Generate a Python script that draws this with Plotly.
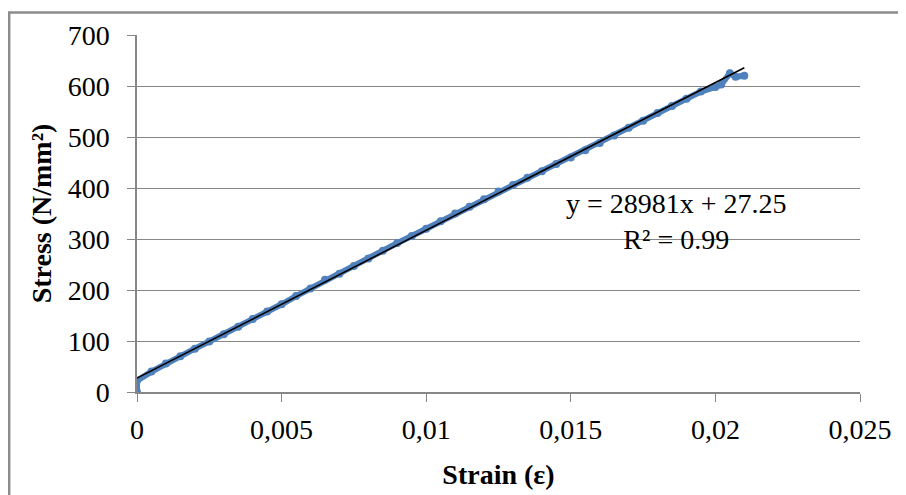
import plotly.graph_objects as go

strain = [0, 0, 0.0005, 0.001, 0.0015, 0.002, 0.0025, 0.003, 0.0035, 0.004, 0.0045,
          0.005, 0.0055, 0.006, 0.0065, 0.007, 0.0075, 0.008, 0.0085, 0.009, 0.0095,
          0.010, 0.0105, 0.011, 0.0115, 0.012, 0.0125, 0.013, 0.0135, 0.014, 0.0145,
          0.015, 0.0155, 0.016, 0.0165, 0.017, 0.0175, 0.018, 0.0185, 0.019, 0.0195,
          0.020, 0.0202, 0.0205, 0.0207, 0.021]
stress = [0, 22, 40, 56, 70, 85, 99, 113, 128, 143, 158,
          172, 188, 203, 220, 232, 247, 262, 277, 292, 306,
          320, 335, 350, 363, 378, 393, 406, 420, 433, 447,
          460, 474, 488, 503, 518, 532, 547, 561, 575, 589,
          598, 603, 625, 618, 620]

slope = 28981
intercept = 27.25
trend_x = [0, 0.021]
trend_y = [slope * x + intercept for x in trend_x]

x_ticks = [0, 0.005, 0.01, 0.015, 0.02, 0.025]
x_tick_labels = ["0", "0,005", "0,01", "0,015", "0,02", "0,025"]
y_ticks = [0, 100, 200, 300, 400, 500, 600, 700]

FONT = "Liberation Serif, Times New Roman, serif"
GRID = "#878787"
FS = 28

fig = go.Figure()
fig.add_trace(go.Scatter(x=strain, y=stress, mode="lines+markers",
                         line=dict(color="#4F81BD", width=6),
                         marker=dict(color="#4F81BD", size=8),
                         showlegend=False))
fig.add_trace(go.Scatter(x=trend_x, y=trend_y, mode="lines",
                         line=dict(color="black", width=1.6),
                         showlegend=False))

fig.add_annotation(x=0.01867, y=334, xref="x", yref="y",
                   text="y = 28981x + 27.25<br>R² = 0.99", showarrow=False,
                   align="center", font=dict(family=FONT, size=FS, color="black"))

# outer chart border
fig.add_shape(type="rect", xref="paper", yref="paper",
              x0=-0.1768, x1=1.1, y0=-0.35, y1=1.0633,
              line=dict(color="#8C8C8C", width=2.5), layer="below")

fig.update_layout(
    width=906, height=495,
    margin=dict(l=129, r=54, t=24, b=111),
    paper_bgcolor="white", plot_bgcolor="white",
    font=dict(family=FONT, size=FS, color="black"),
    xaxis=dict(range=[0, 0.025], tickvals=x_ticks, ticktext=x_tick_labels,
               showgrid=False, zeroline=False, showline=True, linecolor=GRID, linewidth=1.5,
               ticks="outside", ticklen=8, tickcolor=GRID, ticklabelstandoff=4,
               tickfont=dict(family=FONT, size=FS),
               title=dict(text="<b>Strain (ε)</b>", font=dict(family=FONT, size=FS), standoff=20)),
    yaxis=dict(range=[0, 700], tickvals=y_ticks,
               showgrid=True, gridcolor=GRID, gridwidth=1.2, zeroline=False,
               showline=True, linecolor=GRID, linewidth=1.5,
               ticks="outside", ticklen=8, tickcolor=GRID, ticklabelstandoff=12,
               tickfont=dict(family=FONT, size=FS),
               title=dict(text="<b>Stress (N/mm²)</b>", font=dict(family=FONT, size=FS), standoff=8)),
)

fig.write_html("out.html")
